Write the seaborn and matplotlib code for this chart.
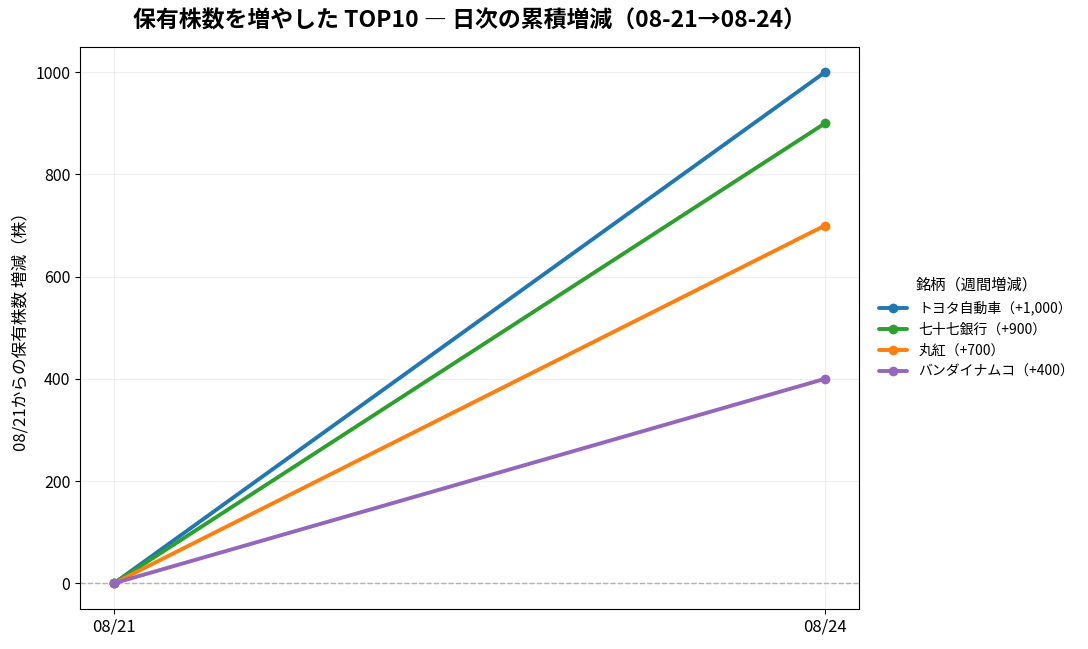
import numpy as np
import pandas as pd
import matplotlib
matplotlib.use("Agg")
import matplotlib.pyplot as plt
import seaborn as sns

sns.set_style("ticks")
plt.rcParams['font.family'] = ['Noto Sans CJK JP', 'DejaVu Sans']
for k in ['text.color', 'axes.labelcolor', 'xtick.color', 'ytick.color', 'axes.edgecolor']:
    plt.rcParams[k] = 'black'

dates = ['08/21', '08/24']
stocks = ['トヨタ自動車', '七十七銀行', '丸紅', 'バンダイナムコ']
weekly = [1000, 900, 700, 400]
cum_0821 = [0, 0, 0, 0]
cum_0824 = [1000, 900, 700, 400]
colors = ['#1f77b4', '#2ca02c', '#ff7f0e', '#9467bd']

labels = [f'{s}（+{w:,}）' for s, w in zip(stocks, weekly)]
rows = []
for lab, a, b in zip(labels, cum_0821, cum_0824):
    rows.append({'x': 0, 'val': a, '銘柄': lab})
    rows.append({'x': 1, 'val': b, '銘柄': lab})
df = pd.DataFrame(rows)

fig = plt.figure(figsize=(10.88, 6.49), dpi=100)
ax = fig.add_axes([0.0735, 0.062, 0.716, 0.866])

sns.lineplot(data=df, x='x', y='val', hue='銘柄', palette=dict(zip(labels, colors)),
             marker='o', markersize=7, markeredgewidth=0, linewidth=2.8, ax=ax)
ax.axhline(0, color='#aaaaaa', linestyle='--', linewidth=1, zorder=0)
ax.grid(True, alpha=0.3)
ax.set_xticks([0, 1])
ax.set_xticklabels(dates, fontsize=12)
ax.tick_params(axis='y', labelsize=11.5)
ax.set_xlabel('')
ax.set_ylabel('08/21からの保有株数 増減（株）', fontsize=12)
ax.set_ylim(-50, 1050)
ax.margins(x=0.048)
ax.set_title('保有株数を増やした TOP10 ― 日次の累積増減（08-21→08-24）',
             fontsize=16.5, fontweight='bold', pad=14)
ax.legend(title='銘柄（週間増減）', loc='center left', bbox_to_anchor=(1.01, 0.5),
          frameon=False, fontsize=10, title_fontsize=11)

fig.savefig('out.png', dpi=100)
